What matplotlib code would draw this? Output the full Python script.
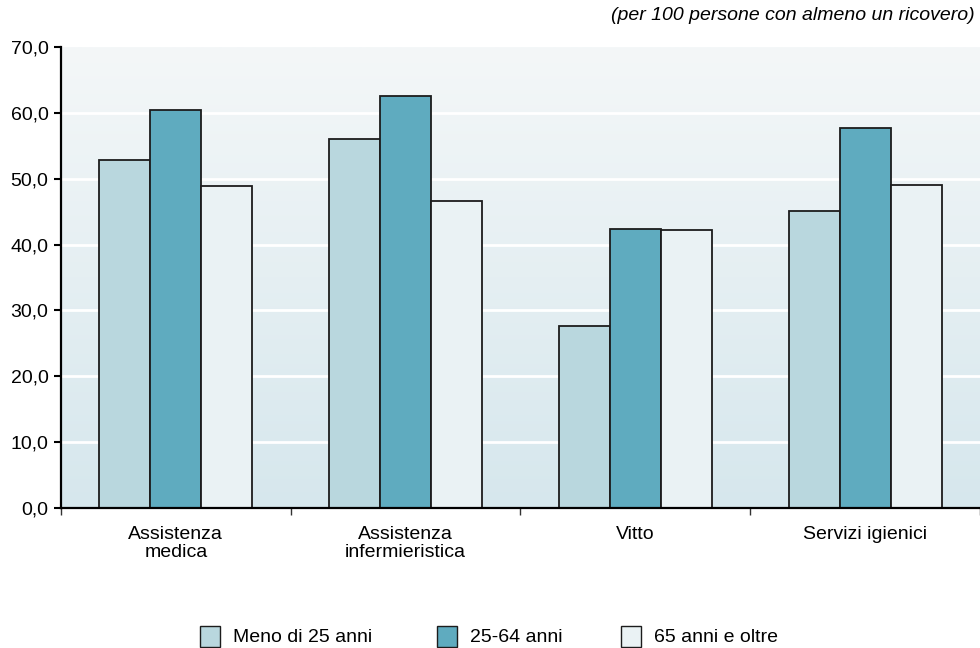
import numpy as np
import matplotlib
matplotlib.use("Agg")
import matplotlib.pyplot as plt
from matplotlib.patches import Rectangle
from matplotlib.ticker import FixedLocator, NullFormatter

plt.rcParams["font.family"] = ["Liberation Sans", "DejaVu Sans"]

categories = ["Assistenza\nmedica", "Assistenza\ninfermieristica", "Vitto", "Servizi igienici"]
series_labels = ["Meno di 25 anni", "25-64 anni", "65 anni e oltre"]
under_25 = [52.9, 56.0, 27.7, 45.1]
age_25_64 = [60.5, 62.6, 42.3, 57.7]
over_65 = [48.9, 46.6, 42.2, 49.1]
y_ticks = [0, 10, 20, 30, 40, 50, 60, 70]
note = "(per 100 persone con almeno un ricovero)"

series = [under_25, age_25_64, over_65]
colors = ["#b9d7de", "#5fabbf", "#eaf2f4"]
edge = "#1c1c1c"
FS = 14

fig = plt.figure(figsize=(9.8, 6.48), dpi=100)
ax = fig.add_axes([0.0622, 0.216, 0.9378, 0.7114])

n = len(categories)
ax.set_xlim(0, n)
ax.set_ylim(0, 70)

# vertical gradient background
top_c = np.array(matplotlib.colors.to_rgb("#f4f7f8"))
bot_c = np.array(matplotlib.colors.to_rgb("#d6e7ed"))
t = np.linspace(0, 1, 256)[:, None]
grad = (top_c[None, :] * (1 - t) + bot_c[None, :] * t)[:, None, :]
ax.imshow(grad, extent=[0, n, 0, 70], aspect="auto", origin="upper", zorder=0)

# white gridlines
for v in y_ticks[1:-1]:
    ax.axhline(v, color="white", lw=2.0, zorder=1)

width = 0.222
centers = np.arange(n) + 0.5
for k, (vals, col) in enumerate(zip(series, colors)):
    ax.bar(centers + (k - 1) * width, vals, width=width, color=col,
           edgecolor=edge, linewidth=1.3, zorder=3)

for s in ["top", "right"]:
    ax.spines[s].set_visible(False)
for s in ["left", "bottom"]:
    ax.spines[s].set_color("black")
    ax.spines[s].set_linewidth(1.6)
    ax.spines[s].set_zorder(4)

ax.set_yticks(y_ticks)
ax.set_yticklabels([f"{v:.1f}".replace(".", ",") for v in y_ticks], fontsize=FS)
ax.tick_params(axis="y", length=5, width=1.5, pad=4, colors="black")

# category boundaries as ticks, labels centred under each group
ax.xaxis.set_major_locator(FixedLocator(np.arange(n + 1)))
ax.xaxis.set_major_formatter(NullFormatter())
ax.xaxis.set_minor_locator(FixedLocator(centers))
ax.set_xticklabels(categories, minor=True, fontsize=FS, linespacing=1.08)
ax.tick_params(axis="x", which="major", length=5, width=1.0, colors="#333333")
ax.tick_params(axis="x", which="minor", length=0, pad=13)

fig.text(0.995, 0.976, note, ha="right", va="center", fontsize=FS, style="italic")

# legend
leg_x = [200, 437, 621]
leg_y = 636
W, H = 980, 648
for lab, col, x in zip(series_labels, colors, leg_x):
    fig.patches.append(Rectangle((x / W, (H - leg_y - 10.5) / H), 20 / W, 21 / H,
                                 transform=fig.transFigure, facecolor=col,
                                 edgecolor=edge, linewidth=1.0))
    fig.text((x + 33) / W, (H - leg_y - 1) / H, lab, ha="left", va="center", fontsize=FS)

fig.savefig("out.png", dpi=100)
